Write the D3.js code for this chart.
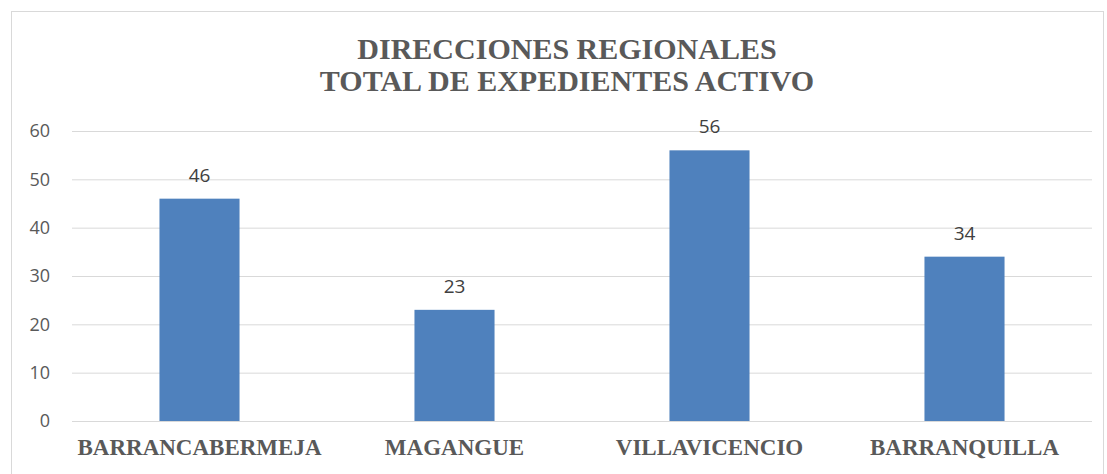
<!DOCTYPE html>
<html>
<head>
<meta charset="utf-8">
<script src="https://cdn.jsdelivr.net/npm/d3@7"></script>
<style>
  body { margin: 0; background: #fff; }
</style>
</head>
<body>
<div id="chart"></div>
<script>
const categories = ["BARRANCABERMEJA", "MAGANGUE", "VILLAVICENCIO", "BARRANQUILLA"];
const values = [46, 23, 56, 34];
const yTicks = [0, 10, 20, 30, 40, 50, 60];
const titleLines = ["DIRECCIONES REGIONALES", "TOTAL DE EXPEDIENTES ACTIVO"];

const width = 1107, height = 474;
const plotLeft = 72, plotRight = 1092, plotTop = 131, plotBottom = 421;
const sans = "'Open Sans', 'Noto Sans', sans-serif";
const serif = "'Liberation Serif', 'DejaVu Serif', serif";

const svg = d3.select("#chart")
  .append("svg")
  .attr("width", width)
  .attr("height", height);

// chart frame
svg.append("rect")
  .attr("x", 11.5).attr("y", 11.5)
  .attr("width", 1092).attr("height", 480)
  .attr("fill", "#fff")
  .attr("stroke", "#d9d9d9");

const x = d3.scaleBand()
  .domain(categories)
  .range([plotLeft, plotRight])
  .paddingInner(0.686)
  .paddingOuter(0.343);

const y = d3.scaleLinear()
  .domain([0, 60])
  .range([plotBottom, plotTop]);

// gridlines
svg.append("g")
  .selectAll("line")
  .data(yTicks)
  .enter()
  .append("line")
  .attr("x1", plotLeft)
  .attr("x2", plotRight)
  .attr("y1", d => y(d) + 0.5)
  .attr("y2", d => y(d) + 0.5)
  .attr("stroke", "#d9d9d9")
  .attr("stroke-width", 1);

// y axis labels
const yAxis = svg.append("g")
  .attr("transform", "translate(" + plotLeft + ",0)")
  .call(d3.axisLeft(y).tickValues(yTicks).tickSize(0).tickPadding(22));
yAxis.select(".domain").remove();
yAxis.selectAll("text")
  .style("font-family", sans)
  .style("font-size", "18px")
  .attr("fill", "#595959");

// bars
svg.append("g")
  .selectAll("rect")
  .data(values)
  .enter()
  .append("rect")
  .attr("x", (d, i) => x(categories[i]))
  .attr("y", d => y(d))
  .attr("width", x.bandwidth())
  .attr("height", d => y(0) - y(d))
  .attr("fill", "#4f81bd");

// value labels
svg.append("g")
  .selectAll("text")
  .data(values)
  .enter()
  .append("text")
  .attr("x", (d, i) => x(categories[i]) + x.bandwidth() / 2)
  .attr("y", d => y(d) - 17)
  .attr("text-anchor", "middle")
  .style("font-family", sans)
  .style("font-size", "19px")
  .attr("fill", "#404040")
  .text(d => d);

// x axis labels
const xAxis = svg.append("g")
  .attr("transform", "translate(0," + plotBottom + ")")
  .call(d3.axisBottom(x).tickSize(0).tickPadding(34));
xAxis.select(".domain").remove();
xAxis.selectAll("text")
  .style("font-family", serif)
  .style("font-weight", "bold")
  .style("font-size", "23px")
  .attr("fill", "#595959")
  .attr("dy", 0);

// title
svg.append("g")
  .selectAll("text")
  .data(titleLines)
  .enter()
  .append("text")
  .attr("x", 567)
  .attr("y", (d, i) => 59 + i * 32)
  .attr("text-anchor", "middle")
  .style("font-family", serif)
  .style("font-weight", "bold")
  .style("font-size", "30px")
  .attr("fill", "#595959")
  .text(d => d);
</script>
</body>
</html>
